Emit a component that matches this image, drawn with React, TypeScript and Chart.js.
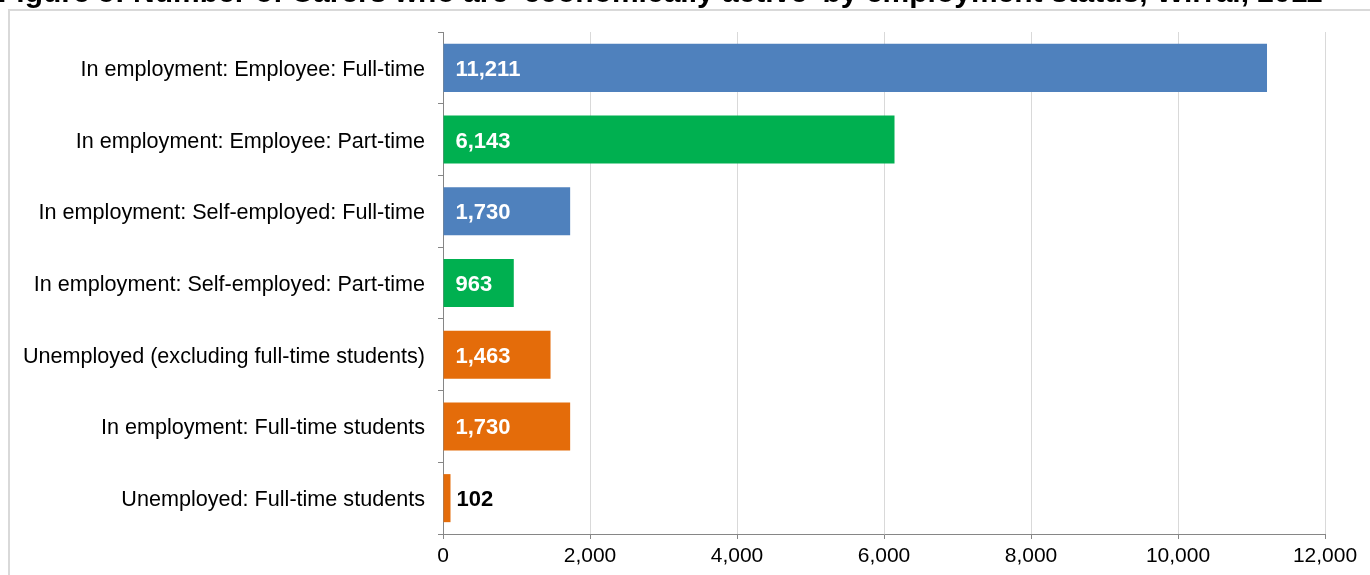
import React, { useEffect, useRef } from "react";
import { Chart, registerables } from "chart.js";

Chart.register(...registerables);

const titleText = "Figure 5: Number of Carers who are 'economically active' by employment status, Wirral, 2011";

const categories = [
  "In employment: Employee: Full-time",
  "In employment: Employee: Part-time",
  "In employment: Self-employed: Full-time",
  "In employment: Self-employed: Part-time",
  "Unemployed (excluding full-time students)",
  "In employment: Full-time students",
  "Unemployed: Full-time students",
];

const values = [11211, 6143, 1730, 963, 1463, 1730, 102];

const BLUE = "#4F81BD";
const GREEN = "#00B050";
const ORANGE = "#E46C0A";
const barColors = [BLUE, GREEN, BLUE, GREEN, ORANGE, ORANGE, ORANGE];

const xMin = 0;
const xMax = 12000;
const xStep = 2000;

const FONT = "'Liberation Sans', Arial, sans-serif";

const framePlugin = {
  id: "frame",
  beforeDraw(chart: any) {
    const ctx = chart.ctx;
    ctx.save();
    ctx.fillStyle = "#ffffff";
    ctx.fillRect(0, 0, chart.width, chart.height);
    ctx.strokeStyle = "#d9d9d9";
    ctx.lineWidth = 2;
    ctx.strokeRect(9, 10, chart.width + 20, chart.height + 20);
    ctx.fillStyle = "#000000";
    ctx.font = `bold 30px ${FONT}`;
    ctx.textBaseline = "alphabetic";
    ctx.textAlign = "left";
    ctx.fillText(titleText, -2, 2);
    ctx.restore();
  },
};

const labelPlugin = {
  id: "barLabels",
  afterDatasetsDraw(chart: any) {
    const ctx = chart.ctx;
    const meta = chart.getDatasetMeta(0);
    ctx.save();
    ctx.font = `bold 22px ${FONT}`;
    ctx.textBaseline = "middle";
    ctx.textAlign = "left";
    meta.data.forEach((bar: any, i: number) => {
      const v = values[i];
      const text = v.toLocaleString("en-US");
      const { x, y, base } = bar.getProps(["x", "y", "base"], true);
      if (v >= 500) {
        ctx.fillStyle = "#ffffff";
        ctx.fillText(text, base + 12, y + 2);
      } else {
        ctx.fillStyle = "#000000";
        ctx.fillText(text, x + 6, y + 2);
      }
    });
    ctx.restore();
  },
};

export default function App() {
  const ref = useRef<HTMLCanvasElement | null>(null);
  useEffect(() => {
    if (!ref.current) return;
    const chart = new Chart(ref.current, {
      type: "bar",
      data: {
        labels: categories,
        datasets: [
          {
            data: values,
            backgroundColor: barColors,
            borderWidth: 0,
            categoryPercentage: 0.67,
            barPercentage: 1,
          },
        ],
      },
      options: {
        indexAxis: "y",
        responsive: false,
        animation: false,
        devicePixelRatio: 1,
        layout: { padding: { top: 32, right: 45, left: 0, bottom: 0 } },
        plugins: {
          legend: { display: false },
          tooltip: { enabled: false },
          title: { display: false },
        },
        scales: {
          x: {
            min: xMin,
            max: xMax,
            ticks: {
              stepSize: xStep,
              color: "#000",
              font: { family: FONT, size: 21 },
              padding: 5,
              maxRotation: 0,
              callback: (v: any) => Number(v).toLocaleString("en-US"),
            },
            grid: {
              color: "#d9d9d9",
              lineWidth: 1,
              tickColor: "#868686",
              tickLength: 5,
            },
            border: { color: "#868686", width: 1 },
            afterFit: (s: any) => {
              s.height = 41;
            },
          },
          y: {
            ticks: {
              color: "#000",
              font: { family: FONT, size: 21.6 },
              padding: 13,
              labelOffset: 2,
            },
            grid: {
              drawOnChartArea: false,
              offset: true,
              tickLength: 5,
              tickColor: "#868686",
            },
            border: { color: "#868686", width: 1 },
            afterFit: (s: any) => {
              s.width = 443;
            },
          },
        },
      },
      plugins: [framePlugin, labelPlugin],
    } as any);
    return () => chart.destroy();
  }, []);
  return (
    <div style={{ position: "fixed", left: 0, top: 0, width: 1370, height: 575, overflow: "hidden", background: "#fff" }}>
      <canvas ref={ref} width={1370} height={575} style={{ display: "block" }} />
    </div>
  );
}
